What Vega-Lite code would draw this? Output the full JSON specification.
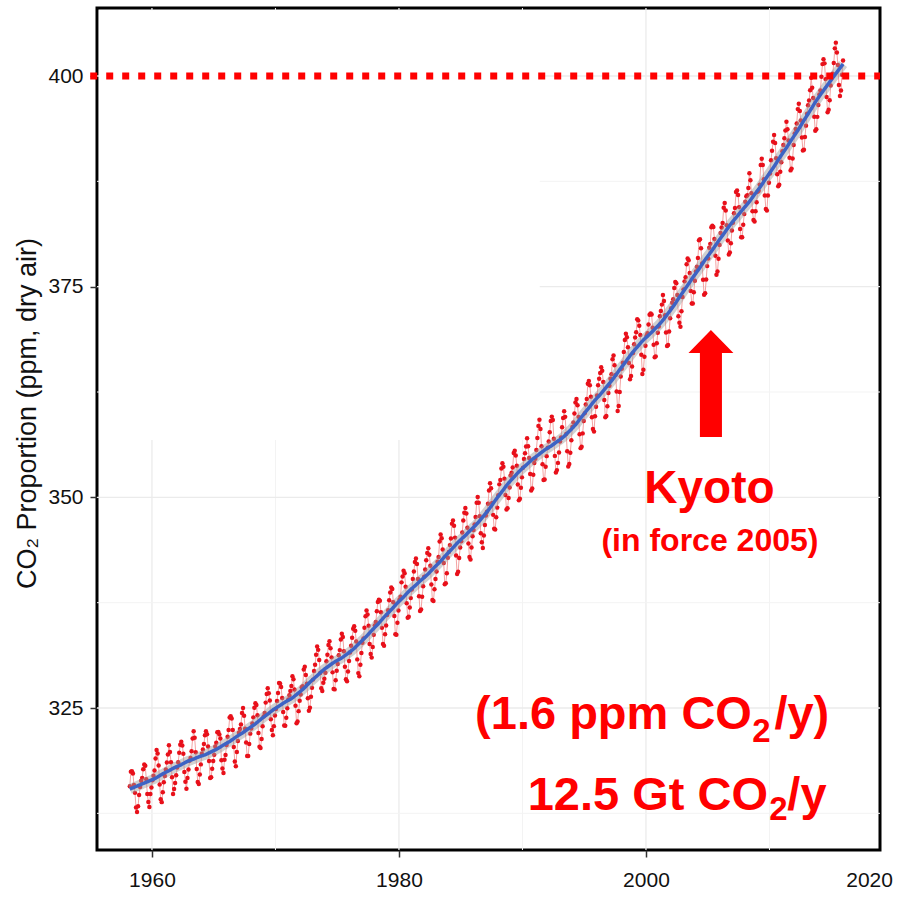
{
"$schema": "https://vega.github.io/schema/vega-lite/v6.json",
"width": 783, "height": 842,
"autosize": "none",
"padding": {"left": 97, "top": 8, "right": 27, "bottom": 54},
"background": "white",
"config": {"view": {"stroke": "#000000", "strokeWidth": 3}, "font": "Liberation Sans"},
"resolve": {"axis": {"x": "independent", "y": "independent"}},
"datasets": {"co2": [
{"t":1958.208,"c":315.71},{"t":1958.292,"c":317.45},{"t":1958.375,"c":317.51},{"t":1958.458,"c":317.24},{"t":1958.542,"c":315.86},{"t":1958.625,"c":314.93},{"t":1958.708,"c":313.2},{"t":1958.792,"c":312.66},{"t":1958.875,"c":313.33},{"t":1958.958,"c":314.67},
{"t":1959.042,"c":315.62},{"t":1959.125,"c":316.38},{"t":1959.208,"c":316.71},{"t":1959.292,"c":317.72},{"t":1959.375,"c":318.29},{"t":1959.458,"c":318.15},{"t":1959.542,"c":316.54},{"t":1959.625,"c":314.8},{"t":1959.708,"c":313.84},{"t":1959.792,"c":313.26},{"t":1959.875,"c":314.8},{"t":1959.958,"c":315.58},
{"t":1960.042,"c":316.43},{"t":1960.125,"c":316.97},{"t":1960.208,"c":317.58},{"t":1960.292,"c":319.02},{"t":1960.375,"c":320.03},{"t":1960.458,"c":319.59},{"t":1960.542,"c":318.18},{"t":1960.625,"c":315.91},{"t":1960.708,"c":314.16},{"t":1960.792,"c":313.83},{"t":1960.875,"c":315.0},{"t":1960.958,"c":316.19},
{"t":1961.042,"c":316.93},{"t":1961.125,"c":317.7},{"t":1961.208,"c":318.54},{"t":1961.292,"c":319.48},{"t":1961.375,"c":320.58},{"t":1961.458,"c":319.77},{"t":1961.542,"c":318.57},{"t":1961.625,"c":316.79},{"t":1961.708,"c":314.8},{"t":1961.792,"c":315.38},{"t":1961.875,"c":316.1},{"t":1961.958,"c":317.01},
{"t":1962.042,"c":317.94},{"t":1962.125,"c":318.56},{"t":1962.208,"c":319.68},{"t":1962.292,"c":320.63},{"t":1962.375,"c":321.01},{"t":1962.458,"c":320.55},{"t":1962.542,"c":319.58},{"t":1962.625,"c":317.4},{"t":1962.708,"c":316.26},{"t":1962.792,"c":315.42},{"t":1962.875,"c":316.69},{"t":1962.958,"c":317.69},
{"t":1963.042,"c":318.74},{"t":1963.125,"c":319.08},{"t":1963.208,"c":319.86},{"t":1963.292,"c":321.39},{"t":1963.375,"c":322.25},{"t":1963.458,"c":321.47},{"t":1963.542,"c":319.74},{"t":1963.625,"c":317.77},{"t":1963.708,"c":316.21},{"t":1963.792,"c":315.99},{"t":1963.875,"c":317.12},{"t":1963.958,"c":318.31},
{"t":1964.042,"c":319.57},{"t":1964.125,"c":320.07},{"t":1964.208,"c":320.73},{"t":1964.292,"c":321.77},{"t":1964.375,"c":322.25},{"t":1964.458,"c":321.89},{"t":1964.542,"c":320.44},{"t":1964.625,"c":318.7},{"t":1964.708,"c":316.7},{"t":1964.792,"c":316.79},{"t":1964.875,"c":317.79},{"t":1964.958,"c":318.71},
{"t":1965.042,"c":319.44},{"t":1965.125,"c":320.44},{"t":1965.208,"c":320.89},{"t":1965.292,"c":322.13},{"t":1965.375,"c":322.16},{"t":1965.458,"c":321.87},{"t":1965.542,"c":321.39},{"t":1965.625,"c":318.81},{"t":1965.708,"c":317.81},{"t":1965.792,"c":317.3},{"t":1965.875,"c":318.87},{"t":1965.958,"c":319.42},
{"t":1966.042,"c":320.62},{"t":1966.125,"c":321.59},{"t":1966.208,"c":322.39},{"t":1966.292,"c":323.87},{"t":1966.375,"c":324.01},{"t":1966.458,"c":323.75},{"t":1966.542,"c":322.39},{"t":1966.625,"c":320.37},{"t":1966.708,"c":318.64},{"t":1966.792,"c":318.1},{"t":1966.875,"c":319.79},{"t":1966.958,"c":321.08},
{"t":1967.042,"c":322.07},{"t":1967.125,"c":322.5},{"t":1967.208,"c":323.04},{"t":1967.292,"c":324.42},{"t":1967.375,"c":325.0},{"t":1967.458,"c":324.09},{"t":1967.542,"c":322.55},{"t":1967.625,"c":320.92},{"t":1967.708,"c":319.31},{"t":1967.792,"c":319.31},{"t":1967.875,"c":320.72},{"t":1967.958,"c":321.96},
{"t":1968.042,"c":322.57},{"t":1968.125,"c":323.15},{"t":1968.208,"c":323.89},{"t":1968.292,"c":325.02},{"t":1968.375,"c":325.57},{"t":1968.458,"c":325.36},{"t":1968.542,"c":324.14},{"t":1968.625,"c":322.03},{"t":1968.708,"c":320.41},{"t":1968.792,"c":320.25},{"t":1968.875,"c":321.31},{"t":1968.958,"c":322.84},
{"t":1969.042,"c":324.0},{"t":1969.125,"c":324.42},{"t":1969.208,"c":325.64},{"t":1969.292,"c":326.66},{"t":1969.375,"c":327.34},{"t":1969.458,"c":326.76},{"t":1969.542,"c":325.88},{"t":1969.625,"c":323.67},{"t":1969.708,"c":322.38},{"t":1969.792,"c":321.78},{"t":1969.875,"c":322.85},{"t":1969.958,"c":324.11},
{"t":1970.042,"c":324.89},{"t":1970.125,"c":325.82},{"t":1970.208,"c":326.77},{"t":1970.292,"c":327.97},{"t":1970.375,"c":327.91},{"t":1970.458,"c":327.5},{"t":1970.542,"c":326.18},{"t":1970.625,"c":324.53},{"t":1970.708,"c":322.93},{"t":1970.792,"c":322.9},{"t":1970.875,"c":323.85},{"t":1970.958,"c":324.96},
{"t":1971.042,"c":326.01},{"t":1971.125,"c":326.51},{"t":1971.208,"c":327.01},{"t":1971.292,"c":327.62},{"t":1971.375,"c":328.76},{"t":1971.458,"c":328.4},{"t":1971.542,"c":327.2},{"t":1971.625,"c":325.27},{"t":1971.708,"c":323.2},{"t":1971.792,"c":323.4},{"t":1971.875,"c":324.63},{"t":1971.958,"c":325.85},
{"t":1972.042,"c":326.6},{"t":1972.125,"c":327.47},{"t":1972.208,"c":327.58},{"t":1972.292,"c":329.56},{"t":1972.375,"c":329.9},{"t":1972.458,"c":328.92},{"t":1972.542,"c":327.88},{"t":1972.625,"c":326.16},{"t":1972.708,"c":324.68},{"t":1972.792,"c":325.04},{"t":1972.875,"c":326.34},{"t":1972.958,"c":327.39},
{"t":1973.042,"c":328.37},{"t":1973.125,"c":329.4},{"t":1973.208,"c":330.14},{"t":1973.292,"c":331.33},{"t":1973.375,"c":332.31},{"t":1973.458,"c":331.9},{"t":1973.542,"c":330.7},{"t":1973.625,"c":329.15},{"t":1973.708,"c":327.35},{"t":1973.792,"c":327.02},{"t":1973.875,"c":327.99},{"t":1973.958,"c":328.48},
{"t":1974.042,"c":329.18},{"t":1974.125,"c":330.55},{"t":1974.208,"c":331.32},{"t":1974.292,"c":332.48},{"t":1974.375,"c":332.92},{"t":1974.458,"c":332.08},{"t":1974.542,"c":331.01},{"t":1974.625,"c":329.23},{"t":1974.708,"c":327.27},{"t":1974.792,"c":327.21},{"t":1974.875,"c":328.29},{"t":1974.958,"c":329.41},
{"t":1975.042,"c":330.23},{"t":1975.125,"c":331.25},{"t":1975.208,"c":331.87},{"t":1975.292,"c":333.14},{"t":1975.375,"c":333.8},{"t":1975.458,"c":333.43},{"t":1975.542,"c":331.73},{"t":1975.625,"c":329.9},{"t":1975.708,"c":328.4},{"t":1975.792,"c":328.17},{"t":1975.875,"c":329.32},{"t":1975.958,"c":330.59},
{"t":1976.042,"c":331.58},{"t":1976.125,"c":332.39},{"t":1976.208,"c":333.33},{"t":1976.292,"c":334.41},{"t":1976.375,"c":334.71},{"t":1976.458,"c":334.17},{"t":1976.542,"c":332.89},{"t":1976.625,"c":330.77},{"t":1976.708,"c":329.14},{"t":1976.792,"c":328.78},{"t":1976.875,"c":330.14},{"t":1976.958,"c":331.52},
{"t":1977.042,"c":332.75},{"t":1977.125,"c":333.24},{"t":1977.208,"c":334.53},{"t":1977.292,"c":335.9},{"t":1977.375,"c":336.57},{"t":1977.458,"c":336.1},{"t":1977.542,"c":334.76},{"t":1977.625,"c":332.59},{"t":1977.708,"c":331.42},{"t":1977.792,"c":330.98},{"t":1977.875,"c":332.24},{"t":1977.958,"c":333.68},
{"t":1978.042,"c":334.8},{"t":1978.125,"c":335.22},{"t":1978.208,"c":336.47},{"t":1978.292,"c":337.59},{"t":1978.375,"c":337.84},{"t":1978.458,"c":337.72},{"t":1978.542,"c":336.37},{"t":1978.625,"c":334.51},{"t":1978.708,"c":332.6},{"t":1978.792,"c":332.38},{"t":1978.875,"c":333.75},{"t":1978.958,"c":334.78},
{"t":1979.042,"c":336.05},{"t":1979.125,"c":336.59},{"t":1979.208,"c":337.79},{"t":1979.292,"c":338.71},{"t":1979.375,"c":339.3},{"t":1979.458,"c":339.12},{"t":1979.542,"c":337.56},{"t":1979.625,"c":335.92},{"t":1979.708,"c":333.75},{"t":1979.792,"c":333.7},{"t":1979.875,"c":335.12},{"t":1979.958,"c":336.56},
{"t":1980.042,"c":337.84},{"t":1980.125,"c":338.19},{"t":1980.208,"c":339.91},{"t":1980.292,"c":340.6},{"t":1980.375,"c":341.29},{"t":1980.458,"c":341.0},{"t":1980.542,"c":339.39},{"t":1980.625,"c":337.43},{"t":1980.708,"c":335.72},{"t":1980.792,"c":335.84},{"t":1980.875,"c":336.93},{"t":1980.958,"c":338.04},
{"t":1981.042,"c":339.06},{"t":1981.125,"c":340.3},{"t":1981.208,"c":341.21},{"t":1981.292,"c":342.33},{"t":1981.375,"c":342.74},{"t":1981.458,"c":342.08},{"t":1981.542,"c":340.32},{"t":1981.625,"c":338.26},{"t":1981.708,"c":336.52},{"t":1981.792,"c":336.68},{"t":1981.875,"c":338.19},{"t":1981.958,"c":339.44},
{"t":1982.042,"c":340.57},{"t":1982.125,"c":341.44},{"t":1982.208,"c":342.53},{"t":1982.292,"c":343.39},{"t":1982.375,"c":343.96},{"t":1982.458,"c":343.18},{"t":1982.542,"c":341.88},{"t":1982.625,"c":339.65},{"t":1982.708,"c":337.81},{"t":1982.792,"c":337.69},{"t":1982.875,"c":339.09},{"t":1982.958,"c":340.32},
{"t":1983.042,"c":341.2},{"t":1983.125,"c":342.35},{"t":1983.208,"c":342.93},{"t":1983.292,"c":344.77},{"t":1983.375,"c":345.58},{"t":1983.458,"c":345.14},{"t":1983.542,"c":343.81},{"t":1983.625,"c":342.21},{"t":1983.708,"c":339.69},{"t":1983.792,"c":339.82},{"t":1983.875,"c":340.98},{"t":1983.958,"c":342.82},
{"t":1984.042,"c":343.52},{"t":1984.125,"c":344.33},{"t":1984.208,"c":345.11},{"t":1984.292,"c":346.88},{"t":1984.375,"c":347.25},{"t":1984.458,"c":346.62},{"t":1984.542,"c":345.22},{"t":1984.625,"c":343.11},{"t":1984.708,"c":340.9},{"t":1984.792,"c":341.17},{"t":1984.875,"c":342.8},{"t":1984.958,"c":344.04},
{"t":1985.042,"c":344.79},{"t":1985.125,"c":345.82},{"t":1985.208,"c":347.25},{"t":1985.292,"c":348.17},{"t":1985.375,"c":348.74},{"t":1985.458,"c":348.07},{"t":1985.542,"c":346.38},{"t":1985.625,"c":344.51},{"t":1985.708,"c":342.92},{"t":1985.792,"c":342.62},{"t":1985.875,"c":344.06},{"t":1985.958,"c":345.38},
{"t":1986.042,"c":346.11},{"t":1986.125,"c":346.78},{"t":1986.208,"c":347.68},{"t":1986.292,"c":349.37},{"t":1986.375,"c":350.03},{"t":1986.458,"c":349.37},{"t":1986.542,"c":347.76},{"t":1986.625,"c":345.73},{"t":1986.708,"c":344.68},{"t":1986.792,"c":343.99},{"t":1986.875,"c":345.48},{"t":1986.958,"c":346.72},
{"t":1987.042,"c":347.84},{"t":1987.125,"c":348.29},{"t":1987.208,"c":349.23},{"t":1987.292,"c":350.8},{"t":1987.375,"c":351.66},{"t":1987.458,"c":351.07},{"t":1987.542,"c":349.33},{"t":1987.625,"c":347.92},{"t":1987.708,"c":346.27},{"t":1987.792,"c":346.18},{"t":1987.875,"c":347.64},{"t":1987.958,"c":348.78},
{"t":1988.042,"c":350.25},{"t":1988.125,"c":351.54},{"t":1988.208,"c":352.05},{"t":1988.292,"c":353.41},{"t":1988.375,"c":354.04},{"t":1988.458,"c":353.62},{"t":1988.542,"c":352.22},{"t":1988.625,"c":350.27},{"t":1988.708,"c":348.55},{"t":1988.792,"c":348.72},{"t":1988.875,"c":349.91},{"t":1988.958,"c":351.18},
{"t":1989.042,"c":352.6},{"t":1989.125,"c":352.92},{"t":1989.208,"c":353.53},{"t":1989.292,"c":355.26},{"t":1989.375,"c":355.52},{"t":1989.458,"c":354.97},{"t":1989.542,"c":353.75},{"t":1989.625,"c":351.52},{"t":1989.708,"c":349.64},{"t":1989.792,"c":349.83},{"t":1989.875,"c":351.14},{"t":1989.958,"c":352.37},
{"t":1990.042,"c":353.5},{"t":1990.125,"c":354.55},{"t":1990.208,"c":355.23},{"t":1990.292,"c":356.04},{"t":1990.375,"c":357.0},{"t":1990.458,"c":356.07},{"t":1990.542,"c":354.67},{"t":1990.625,"c":352.76},{"t":1990.708,"c":350.82},{"t":1990.792,"c":351.04},{"t":1990.875,"c":352.69},{"t":1990.958,"c":354.07},
{"t":1991.042,"c":354.59},{"t":1991.125,"c":355.63},{"t":1991.208,"c":357.03},{"t":1991.292,"c":358.48},{"t":1991.375,"c":359.22},{"t":1991.458,"c":358.12},{"t":1991.542,"c":356.06},{"t":1991.625,"c":353.92},{"t":1991.708,"c":352.05},{"t":1991.792,"c":352.11},{"t":1991.875,"c":353.64},{"t":1991.958,"c":354.89},
{"t":1992.042,"c":355.88},{"t":1992.125,"c":356.63},{"t":1992.208,"c":357.72},{"t":1992.292,"c":359.07},{"t":1992.375,"c":359.58},{"t":1992.458,"c":359.17},{"t":1992.542,"c":356.94},{"t":1992.625,"c":354.92},{"t":1992.708,"c":352.94},{"t":1992.792,"c":353.23},{"t":1992.875,"c":354.09},{"t":1992.958,"c":355.33},
{"t":1993.042,"c":356.63},{"t":1993.125,"c":357.1},{"t":1993.208,"c":358.32},{"t":1993.292,"c":359.41},{"t":1993.375,"c":360.23},{"t":1993.458,"c":359.55},{"t":1993.542,"c":357.53},{"t":1993.625,"c":355.48},{"t":1993.708,"c":353.67},{"t":1993.792,"c":353.95},{"t":1993.875,"c":355.3},{"t":1993.958,"c":356.78},
{"t":1994.042,"c":358.34},{"t":1994.125,"c":358.89},{"t":1994.208,"c":359.95},{"t":1994.292,"c":361.25},{"t":1994.375,"c":361.67},{"t":1994.458,"c":360.94},{"t":1994.542,"c":359.55},{"t":1994.625,"c":357.49},{"t":1994.708,"c":355.84},{"t":1994.792,"c":356.0},{"t":1994.875,"c":357.59},{"t":1994.958,"c":359.05},
{"t":1995.042,"c":359.98},{"t":1995.125,"c":361.03},{"t":1995.208,"c":361.66},{"t":1995.292,"c":363.48},{"t":1995.375,"c":363.82},{"t":1995.458,"c":363.3},{"t":1995.542,"c":361.94},{"t":1995.625,"c":359.5},{"t":1995.708,"c":358.11},{"t":1995.792,"c":357.8},{"t":1995.875,"c":359.61},{"t":1995.958,"c":360.74},
{"t":1996.042,"c":362.09},{"t":1996.125,"c":363.29},{"t":1996.208,"c":364.06},{"t":1996.292,"c":364.76},{"t":1996.375,"c":365.45},{"t":1996.458,"c":365.01},{"t":1996.542,"c":363.7},{"t":1996.625,"c":361.54},{"t":1996.708,"c":359.51},{"t":1996.792,"c":359.65},{"t":1996.875,"c":360.8},{"t":1996.958,"c":362.38},
{"t":1997.042,"c":363.23},{"t":1997.125,"c":364.06},{"t":1997.208,"c":364.61},{"t":1997.292,"c":366.4},{"t":1997.375,"c":366.84},{"t":1997.458,"c":365.68},{"t":1997.542,"c":364.52},{"t":1997.625,"c":362.57},{"t":1997.708,"c":360.24},{"t":1997.792,"c":360.83},{"t":1997.875,"c":362.49},{"t":1997.958,"c":364.34},
{"t":1998.042,"c":365.27},{"t":1998.125,"c":365.98},{"t":1998.208,"c":367.24},{"t":1998.292,"c":368.66},{"t":1998.375,"c":369.42},{"t":1998.458,"c":368.99},{"t":1998.542,"c":367.82},{"t":1998.625,"c":365.95},{"t":1998.708,"c":364.02},{"t":1998.792,"c":364.4},{"t":1998.875,"c":365.52},{"t":1998.958,"c":367.13},
{"t":1999.042,"c":368.18},{"t":1999.125,"c":368.98},{"t":1999.208,"c":369.59},{"t":1999.292,"c":371.14},{"t":1999.375,"c":371.0},{"t":1999.458,"c":370.35},{"t":1999.542,"c":369.27},{"t":1999.625,"c":366.93},{"t":1999.708,"c":364.64},{"t":1999.792,"c":365.13},{"t":1999.875,"c":366.68},{"t":1999.958,"c":368.0},
{"t":2000.042,"c":369.14},{"t":2000.125,"c":369.46},{"t":2000.208,"c":370.51},{"t":2000.292,"c":371.66},{"t":2000.375,"c":371.83},{"t":2000.458,"c":371.69},{"t":2000.542,"c":370.12},{"t":2000.625,"c":368.12},{"t":2000.708,"c":366.62},{"t":2000.792,"c":366.73},{"t":2000.875,"c":368.29},{"t":2000.958,"c":369.53},
{"t":2001.042,"c":370.28},{"t":2001.125,"c":371.5},{"t":2001.208,"c":372.12},{"t":2001.292,"c":372.87},{"t":2001.375,"c":374.02},{"t":2001.458,"c":373.3},{"t":2001.542,"c":371.62},{"t":2001.625,"c":369.55},{"t":2001.708,"c":367.96},{"t":2001.792,"c":368.09},{"t":2001.875,"c":369.68},{"t":2001.958,"c":371.24},
{"t":2002.042,"c":372.44},{"t":2002.125,"c":373.08},{"t":2002.208,"c":373.52},{"t":2002.292,"c":374.85},{"t":2002.375,"c":375.55},{"t":2002.458,"c":375.4},{"t":2002.542,"c":374.02},{"t":2002.625,"c":371.48},{"t":2002.708,"c":370.71},{"t":2002.792,"c":370.25},{"t":2002.875,"c":372.08},{"t":2002.958,"c":373.78},
{"t":2003.042,"c":374.68},{"t":2003.125,"c":375.63},{"t":2003.208,"c":376.11},{"t":2003.292,"c":377.65},{"t":2003.375,"c":378.35},{"t":2003.458,"c":378.13},{"t":2003.542,"c":376.62},{"t":2003.625,"c":374.5},{"t":2003.708,"c":372.99},{"t":2003.792,"c":373.0},{"t":2003.875,"c":374.35},{"t":2003.958,"c":375.7},
{"t":2004.042,"c":376.79},{"t":2004.125,"c":377.36},{"t":2004.208,"c":378.39},{"t":2004.292,"c":380.5},{"t":2004.375,"c":380.62},{"t":2004.458,"c":379.55},{"t":2004.542,"c":377.76},{"t":2004.625,"c":375.83},{"t":2004.708,"c":374.05},{"t":2004.792,"c":374.22},{"t":2004.875,"c":375.84},{"t":2004.958,"c":377.44},
{"t":2005.042,"c":378.34},{"t":2005.125,"c":379.61},{"t":2005.208,"c":380.08},{"t":2005.292,"c":382.05},{"t":2005.375,"c":382.24},{"t":2005.458,"c":382.08},{"t":2005.542,"c":380.67},{"t":2005.625,"c":378.67},{"t":2005.708,"c":376.42},{"t":2005.792,"c":376.8},{"t":2005.875,"c":378.31},{"t":2005.958,"c":379.96},
{"t":2006.042,"c":381.37},{"t":2006.125,"c":382.02},{"t":2006.208,"c":382.56},{"t":2006.292,"c":384.37},{"t":2006.375,"c":384.92},{"t":2006.458,"c":384.03},{"t":2006.542,"c":382.28},{"t":2006.625,"c":380.48},{"t":2006.708,"c":378.81},{"t":2006.792,"c":379.06},{"t":2006.875,"c":380.14},{"t":2006.958,"c":381.66},
{"t":2007.042,"c":382.58},{"t":2007.125,"c":383.71},{"t":2007.208,"c":384.34},{"t":2007.292,"c":386.23},{"t":2007.375,"c":386.41},{"t":2007.458,"c":385.87},{"t":2007.542,"c":384.44},{"t":2007.625,"c":381.84},{"t":2007.708,"c":380.86},{"t":2007.792,"c":380.86},{"t":2007.875,"c":382.36},{"t":2007.958,"c":383.61},
{"t":2008.042,"c":385.07},{"t":2008.125,"c":385.72},{"t":2008.208,"c":385.85},{"t":2008.292,"c":386.71},{"t":2008.375,"c":388.45},{"t":2008.458,"c":387.64},{"t":2008.542,"c":386.1},{"t":2008.625,"c":383.95},{"t":2008.708,"c":382.91},{"t":2008.792,"c":382.73},{"t":2008.875,"c":383.96},{"t":2008.958,"c":385.02},
{"t":2009.042,"c":386.26},{"t":2009.125,"c":386.39},{"t":2009.208,"c":387.11},{"t":2009.292,"c":389.44},{"t":2009.375,"c":390.18},{"t":2009.458,"c":389.45},{"t":2009.542,"c":387.76},{"t":2009.625,"c":385.83},{"t":2009.708,"c":384.21},{"t":2009.792,"c":384.04},{"t":2009.875,"c":385.82},{"t":2009.958,"c":387.34},
{"t":2010.042,"c":388.43},{"t":2010.125,"c":389.99},{"t":2010.208,"c":391.13},{"t":2010.292,"c":392.2},{"t":2010.375,"c":393.01},{"t":2010.458,"c":392.04},{"t":2010.542,"c":390.25},{"t":2010.625,"c":388.33},{"t":2010.708,"c":386.91},{"t":2010.792,"c":387.1},{"t":2010.875,"c":388.63},{"t":2010.958,"c":389.77},
{"t":2011.042,"c":391.07},{"t":2011.125,"c":391.82},{"t":2011.208,"c":392.61},{"t":2011.292,"c":393.52},{"t":2011.375,"c":394.58},{"t":2011.458,"c":393.68},{"t":2011.542,"c":392.35},{"t":2011.625,"c":390.3},{"t":2011.708,"c":388.8},{"t":2011.792,"c":389.01},{"t":2011.875,"c":390.22},{"t":2011.958,"c":391.8},
{"t":2012.042,"c":393.17},{"t":2012.125,"c":393.7},{"t":2012.208,"c":394.37},{"t":2012.292,"c":396.07},{"t":2012.375,"c":396.72},{"t":2012.458,"c":395.84},{"t":2012.542,"c":394.71},{"t":2012.625,"c":392.7},{"t":2012.708,"c":391.15},{"t":2012.792,"c":391.25},{"t":2012.875,"c":392.77},{"t":2012.958,"c":394.11},
{"t":2013.042,"c":395.51},{"t":2013.125,"c":396.53},{"t":2013.208,"c":397.09},{"t":2013.292,"c":398.32},{"t":2013.375,"c":399.78},{"t":2013.458,"c":398.6},{"t":2013.542,"c":397.38},{"t":2013.625,"c":395.16},{"t":2013.708,"c":393.51},{"t":2013.792,"c":393.68},{"t":2013.875,"c":395.15},{"t":2013.958,"c":396.56},
{"t":2014.042,"c":397.8},{"t":2014.125,"c":398.28},{"t":2014.208,"c":399.92},{"t":2014.292,"c":401.41},{"t":2014.375,"c":401.99},{"t":2014.458,"c":401.5},{"t":2014.542,"c":399.63},{"t":2014.625,"c":397.52},{"t":2014.708,"c":395.69},{"t":2014.792,"c":395.99},{"t":2014.875,"c":397.12},{"t":2014.958,"c":398.88},
{"t":2015.042,"c":399.98},{"t":2015.125,"c":400.28},{"t":2015.208,"c":401.54},{"t":2015.292,"c":403.28},{"t":2015.375,"c":403.96},{"t":2015.458,"c":402.8},{"t":2015.542,"c":401.31},{"t":2015.625,"c":398.93},{"t":2015.708,"c":397.63},{"t":2015.792,"c":398.29},{"t":2015.875,"c":400.16},{"t":2015.958,"c":401.85}
]},
"layer": [
{"data": {"values": [{"gx": 1970}, {"gx": 1990}, {"gx": 2010}]},
 "mark": {"type": "rule", "color": "#f3f3f3", "strokeWidth": 1},
 "encoding": {"x": {"field": "gx", "type": "quantitative", "scale": {"domain": [1955.55, 2018.95], "nice": false, "zero": false}, "axis": null}}},
{"data": {"values": [{"gx": 1960}, {"gx": 1980}, {"gx": 2000}]},
 "mark": {"type": "rule", "color": "#ebebeb", "strokeWidth": 1.3},
 "encoding": {"x": {"field": "gx", "type": "quantitative", "scale": {"domain": [1955.55, 2018.95], "nice": false, "zero": false}, "axis": null}}},
{"data": {"values": [{"gy": 312.5}, {"gy": 337.5}, {"gy": 362.5}, {"gy": 387.5}]},
 "mark": {"type": "rule", "color": "#f3f3f3", "strokeWidth": 1},
 "encoding": {"y": {"field": "gy", "type": "quantitative", "scale": {"domain": [308.15, 408.07], "nice": false, "zero": false}, "axis": null}}},
{"data": {"values": [{"gy": 325}, {"gy": 350}, {"gy": 375}, {"gy": 400}]},
 "mark": {"type": "rule", "color": "#ebebeb", "strokeWidth": 1.3},
 "encoding": {"y": {"field": "gy", "type": "quantitative", "scale": {"domain": [308.15, 408.07], "nice": false, "zero": false}, "axis": null}}},
{"data": {"values": [{"x1": 1955.7, "x2": 1991.4, "y1": 356.8, "y2": 407.8}]},
 "mark": {"type": "rect", "color": "#ffffff"},
 "encoding": {
  "x": {"field": "x1", "type": "quantitative", "scale": {"domain": [1955.55, 2018.95], "nice": false, "zero": false}, "axis": null},
  "x2": {"field": "x2"},
  "y": {"field": "y1", "type": "quantitative", "scale": {"domain": [308.15, 408.07], "nice": false, "zero": false}, "axis": null},
  "y2": {"field": "y2"}}},
{"data": {"name": "co2"},
 "mark": {"type": "line", "color": "#f4a3a3", "strokeWidth": 1},
 "encoding": {
  "x": {"field": "t", "type": "quantitative", "scale": {"domain": [1955.55, 2018.95], "nice": false, "zero": false}, "axis": null},
  "y": {"field": "c", "type": "quantitative", "scale": {"domain": [308.15, 408.07], "nice": false, "zero": false}, "axis": null}}},
{"data": {"name": "co2"},
 "mark": {"type": "point", "filled": true, "size": 20, "color": "#e8101a", "opacity": 1},
 "encoding": {
  "x": {"field": "t", "type": "quantitative", "scale": {"domain": [1955.55, 2018.95], "nice": false, "zero": false},
        "axis": {"values": [1960, 1980, 2000], "format": "d", "labelFlush": false, "grid": false, "domain": false, "ticks": true, "tickSize": 7, "tickWidth": 1.5, "tickColor": "#333333", "labelFontSize": 21, "labelFont": "Liberation Sans", "labelColor": "#111111", "labelPadding": 12, "title": null}},
  "y": {"field": "c", "type": "quantitative", "scale": {"domain": [308.15, 408.07], "nice": false, "zero": false},
        "axis": {"values": [325, 350, 375, 400], "grid": false, "domain": false, "tickSize": 7, "tickWidth": 1.5, "tickColor": "#333333", "labelFontSize": 21, "labelFont": "Liberation Sans", "labelColor": "#111111", "labelPadding": 7, "title": "CO₂ Proportion (ppm, dry air)", "titleFont": "Liberation Sans", "titleFontSize": 27, "titleFontWeight": "normal", "titleColor": "#111111", "titlePadding": 6, "titleY": 405}}}},
{"data": {"name": "co2"},
 "transform": [{"loess": "c", "on": "t", "bandwidth": 0.08}],
 "mark": {"type": "line", "color": "#999999", "opacity": 0.45, "strokeWidth": 10},
 "encoding": {
  "x": {"field": "t", "type": "quantitative", "scale": {"domain": [1955.55, 2018.95], "nice": false, "zero": false}, "axis": null},
  "y": {"field": "c", "type": "quantitative", "scale": {"domain": [308.15, 408.07], "nice": false, "zero": false}, "axis": null}}},
{"data": {"name": "co2"},
 "transform": [{"loess": "c", "on": "t", "bandwidth": 0.08}],
 "mark": {"type": "line", "color": "#3d63c4", "strokeWidth": 3.5},
 "encoding": {
  "x": {"field": "t", "type": "quantitative", "scale": {"domain": [1955.55, 2018.95], "nice": false, "zero": false}, "axis": null},
  "y": {"field": "c", "type": "quantitative", "scale": {"domain": [308.15, 408.07], "nice": false, "zero": false}, "axis": null}}},
{"data": {"values": [{"x1": 1955.0, "x2": 2018.95, "y": 400}]},
 "mark": {"type": "rule", "color": "#ff0000", "strokeWidth": 7, "strokeDash": [7, 9], "strokeCap": "butt"},
 "encoding": {
  "x": {"field": "x1", "type": "quantitative", "scale": {"domain": [1955.55, 2018.95], "nice": false, "zero": false}, "axis": null},
  "x2": {"field": "x2"},
  "y": {"field": "y", "type": "quantitative", "scale": {"domain": [308.15, 408.07], "nice": false, "zero": false}, "axis": null}}},
{"data": {"values": [{"ax": 2005.26, "ay": 363.5}]},
 "mark": {"type": "point", "filled": true, "size": 11449, "color": "#ff0000", "opacity": 1, "strokeWidth": 0,
          "shape": "M0,-1L0.42,-0.57L0.206,-0.57L0.206,1L-0.206,1L-0.206,-0.57L-0.42,-0.57Z"},
 "encoding": {
  "x": {"field": "ax", "type": "quantitative", "scale": {"domain": [1955.55, 2018.95], "nice": false, "zero": false}, "axis": null},
  "y": {"field": "ay", "type": "quantitative", "scale": {"domain": [308.15, 408.07], "nice": false, "zero": false}, "axis": null}}},
{"data": {"values": [{"tx": 2020, "ty": 303.76, "label": "2020"}]},
 "mark": {"type": "text", "font": "Liberation Sans", "fontSize": 21, "color": "#111111", "align": "right", "baseline": "alphabetic"},
 "encoding": {
  "x": {"field": "tx", "type": "quantitative", "scale": {"domain": [1955.55, 2018.95], "nice": false, "zero": false}, "axis": null},
  "y": {"field": "ty", "type": "quantitative", "scale": {"domain": [308.15, 408.07], "nice": false, "zero": false}, "axis": null},
  "text": {"field": "label"}}},
{"data": {"values": [{"tx": 2005.14, "ty": 349.33, "label": "Kyoto"}]},
 "mark": {"type": "text", "font": "Liberation Sans", "fontWeight": "bold", "fontSize": 46, "color": "#ff0000", "align": "center", "baseline": "alphabetic"},
 "encoding": {
  "x": {"field": "tx", "type": "quantitative", "scale": {"domain": [1955.55, 2018.95], "nice": false, "zero": false}, "axis": null},
  "y": {"field": "ty", "type": "quantitative", "scale": {"domain": [308.15, 408.07], "nice": false, "zero": false}, "axis": null},
  "text": {"field": "label"}}},
{"data": {"values": [{"tx": 2005.18, "ty": 343.63, "label": "(in force 2005)"}]},
 "mark": {"type": "text", "font": "Liberation Sans", "fontWeight": "bold", "fontSize": 32, "color": "#ff0000", "align": "center", "baseline": "alphabetic"},
 "encoding": {
  "x": {"field": "tx", "type": "quantitative", "scale": {"domain": [1955.55, 2018.95], "nice": false, "zero": false}, "axis": null},
  "y": {"field": "ty", "type": "quantitative", "scale": {"domain": [308.15, 408.07], "nice": false, "zero": false}, "axis": null},
  "text": {"field": "label"}}},
{"data": {"values": [{"tx": 2008.58, "ty": 322.51, "label": "(1.6 ppm CO"}, {"tx": 2009.88, "ty": 312.9, "label": "12.5 Gt CO"}]},
 "mark": {"type": "text", "font": "Liberation Sans", "fontWeight": "bold", "fontSize": 47, "color": "#ff0000", "align": "right", "baseline": "alphabetic"},
 "encoding": {
  "x": {"field": "tx", "type": "quantitative", "scale": {"domain": [1955.55, 2018.95], "nice": false, "zero": false}, "axis": null},
  "y": {"field": "ty", "type": "quantitative", "scale": {"domain": [308.15, 408.07], "nice": false, "zero": false}, "axis": null},
  "text": {"field": "label"}}},
{"data": {"values": [{"tx": 2009.35, "ty": 320.97, "label": "2"}, {"tx": 2010.73, "ty": 311.71, "label": "2"}]},
 "mark": {"type": "text", "font": "Liberation Sans", "fontWeight": "bold", "fontSize": 33, "color": "#ff0000", "align": "center", "baseline": "alphabetic"},
 "encoding": {
  "x": {"field": "tx", "type": "quantitative", "scale": {"domain": [1955.55, 2018.95], "nice": false, "zero": false}, "axis": null},
  "y": {"field": "ty", "type": "quantitative", "scale": {"domain": [308.15, 408.07], "nice": false, "zero": false}, "axis": null},
  "text": {"field": "label"}}},
{"data": {"values": [{"tx": 2010.4, "ty": 322.51, "label": "/y)"}, {"tx": 2011.45, "ty": 312.9, "label": "/y"}]},
 "mark": {"type": "text", "font": "Liberation Sans", "fontWeight": "bold", "fontSize": 47, "color": "#ff0000", "align": "left", "baseline": "alphabetic"},
 "encoding": {
  "x": {"field": "tx", "type": "quantitative", "scale": {"domain": [1955.55, 2018.95], "nice": false, "zero": false}, "axis": null},
  "y": {"field": "ty", "type": "quantitative", "scale": {"domain": [308.15, 408.07], "nice": false, "zero": false}, "axis": null},
  "text": {"field": "label"}}}
]
}
